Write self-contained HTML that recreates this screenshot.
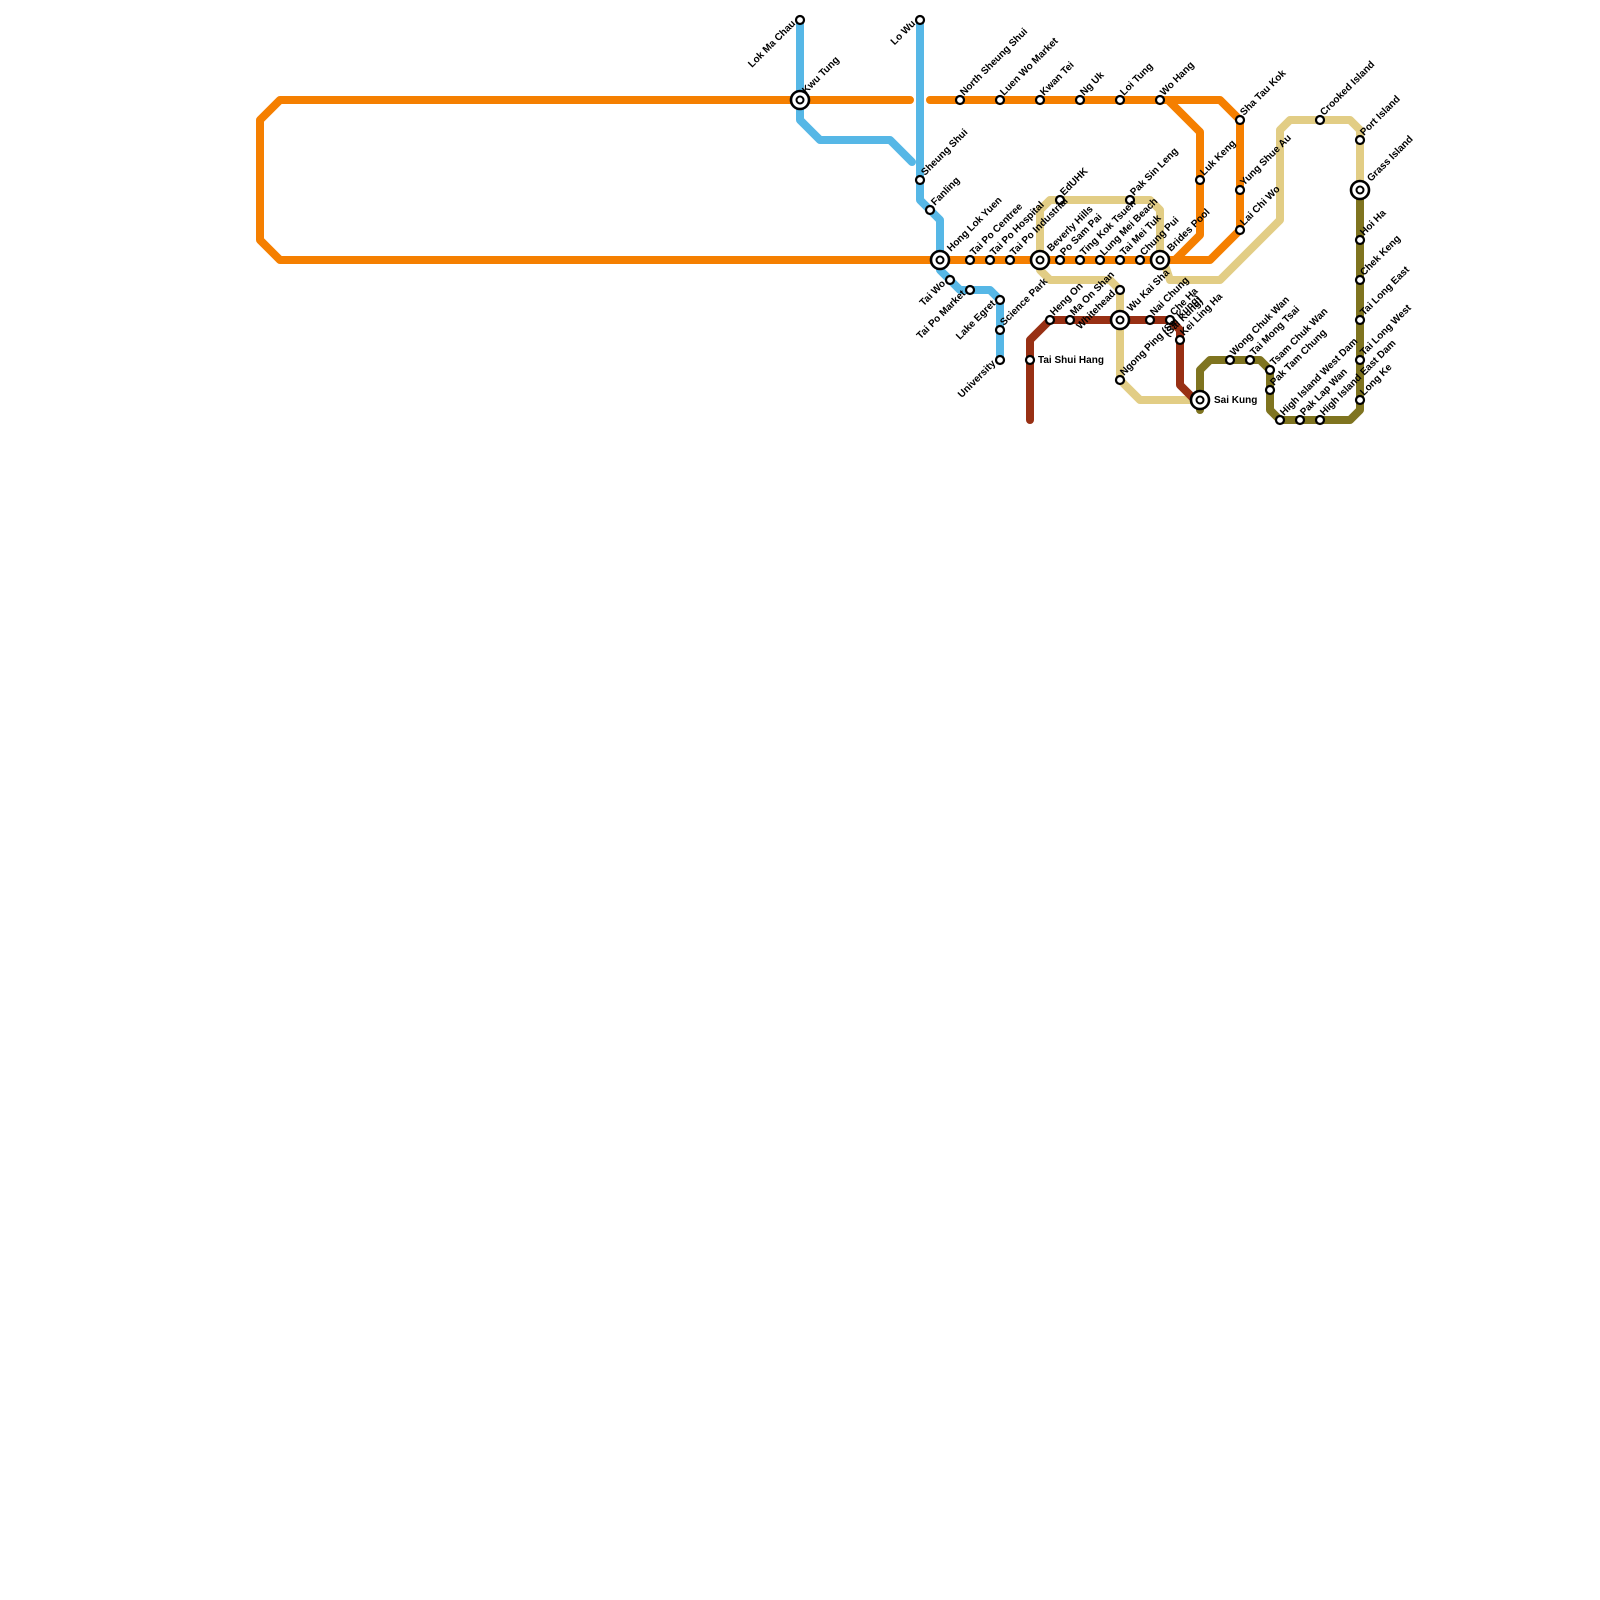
<!DOCTYPE html>
<html><head><meta charset="utf-8"><style>body{margin:0;background:#fff}svg{display:block}text{font-family:"Liberation Sans",Arial,sans-serif;font-weight:bold;font-size:10px;fill:#000}</style></head><body>
<svg width="1600" height="1600" viewBox="0 0 1600 1600" xmlns="http://www.w3.org/2000/svg">
<g fill="none" stroke-width="8" stroke-linejoin="round" stroke-linecap="round">
<path stroke="#E2CD85" d="M1040,260 L1040,210 L1050,200 L1150,200 L1160,210 L1160,250 L1170,280 L1220,280 L1280,220 L1280,130 L1290,120 L1350,120 L1360,130 L1360,190"/>
<path stroke="#E2CD85" d="M1040,260 L1040,270 L1050,280 L1110,280 L1120,290 L1120,380 L1140,400 L1200,400"/>
<path stroke="#983014" d="M1030,420 L1030,340 L1050,320 L1170,320 L1180,330 L1180,385 L1200,405"/>
<path stroke="#7F7420" d="M1200,410 L1200,370 L1210,360 L1260,360 L1270,370 L1270,410 L1280,420 L1350,420 L1360,410 L1360,190"/>
<path stroke="#56B7E6" d="M800,20 L800,120 L820,140 L890,140 L912,162"/>
<path stroke="#56B7E6" d="M920,20 L920,200 L940,220 L940,270 L960,290 L990,290 L1000,300 L1000,360"/>
<path stroke="#F57F00" d="M910,100 L280,100 L260,120 L260,240 L280,260 L1210,260 L1240,230 L1240,120 L1220,100 L930,100"/>
<path stroke="#F57F00" d="M1168,100 L1200,132 L1200,235 L1175,260"/>
</g>
<g fill="#fff" stroke="#000" stroke-width="2.2">
<circle cx="800" cy="20" r="4"/><circle cx="920" cy="20" r="4"/><circle cx="920" cy="180" r="4"/><circle cx="930" cy="210" r="4"/>
<circle cx="950" cy="280" r="4"/><circle cx="970" cy="290" r="4"/><circle cx="1000" cy="300" r="4"/><circle cx="1000" cy="330" r="4"/><circle cx="1000" cy="360" r="4"/>
<circle cx="960" cy="100" r="4"/><circle cx="1000" cy="100" r="4"/><circle cx="1040" cy="100" r="4"/><circle cx="1080" cy="100" r="4"/><circle cx="1120" cy="100" r="4"/><circle cx="1160" cy="100" r="4"/>
<circle cx="1240" cy="120" r="4"/><circle cx="1240" cy="190" r="4"/><circle cx="1240" cy="230" r="4"/><circle cx="1200" cy="180" r="4"/>
<circle cx="970" cy="260" r="4"/><circle cx="990" cy="260" r="4"/><circle cx="1010" cy="260" r="4"/><circle cx="1060" cy="260" r="4"/><circle cx="1080" cy="260" r="4"/><circle cx="1100" cy="260" r="4"/><circle cx="1120" cy="260" r="4"/><circle cx="1140" cy="260" r="4"/>
<circle cx="1060" cy="200" r="4"/><circle cx="1130" cy="200" r="4"/><circle cx="1120" cy="290" r="4"/><circle cx="1120" cy="380" r="4"/>
<circle cx="1050" cy="320" r="4"/><circle cx="1070" cy="320" r="4"/><circle cx="1150" cy="320" r="4"/><circle cx="1170" cy="320" r="4"/><circle cx="1180" cy="340" r="4"/><circle cx="1030" cy="360" r="4"/>
<circle cx="1230" cy="360" r="4"/><circle cx="1250" cy="360" r="4"/><circle cx="1270" cy="370" r="4"/><circle cx="1270" cy="390" r="4"/><circle cx="1280" cy="420" r="4"/><circle cx="1300" cy="420" r="4"/><circle cx="1320" cy="420" r="4"/>
<circle cx="1360" cy="400" r="4"/><circle cx="1360" cy="360" r="4"/><circle cx="1360" cy="320" r="4"/><circle cx="1360" cy="280" r="4"/><circle cx="1360" cy="240" r="4"/><circle cx="1360" cy="140" r="4"/><circle cx="1320" cy="120" r="4"/>
</g>
<g fill="#fff" stroke="#000">
<g stroke-width="2.6"><circle cx="800" cy="100" r="9"/><circle cx="940" cy="260" r="9"/><circle cx="1040" cy="260" r="9"/><circle cx="1160" cy="260" r="9"/><circle cx="1120" cy="320" r="9"/><circle cx="1200" cy="400" r="9"/><circle cx="1360" cy="190" r="9"/></g>
<g stroke-width="2"><circle cx="800" cy="100" r="3.5"/><circle cx="940" cy="260" r="3.5"/><circle cx="1040" cy="260" r="3.5"/><circle cx="1160" cy="260" r="3.5"/><circle cx="1120" cy="320" r="3.5"/><circle cx="1200" cy="400" r="3.5"/><circle cx="1360" cy="190" r="3.5"/></g>
</g>
<g>
<text transform="translate(806,94) rotate(-45)">Kwu Tung</text>
<text transform="translate(925,176) rotate(-45)">Sheung Shui</text>
<text transform="translate(935,206) rotate(-45)">Fanling</text>
<text transform="translate(951,252) rotate(-45)">Hong Lok Yuen</text>
<text transform="translate(974,256) rotate(-45)">Tai Po Centree</text>
<text transform="translate(994,256) rotate(-45)">Tai Po Hospital</text>
<text transform="translate(1014,256) rotate(-45)">Tai Po Industrial</text>
<text transform="translate(1051,252) rotate(-45)">Beverly Hills</text>
<text transform="translate(1064,256) rotate(-45)">Po Sam Pai</text>
<text transform="translate(1084,256) rotate(-45)">Ting Kok Tsuen</text>
<text transform="translate(1104,256) rotate(-45)">Lung Mei Beach</text>
<text transform="translate(1124,256) rotate(-45)">Tai Mei Tuk</text>
<text transform="translate(1144,256) rotate(-45)">Chung Pui</text>
<text transform="translate(1171,252) rotate(-45)">Brides Pool</text>
<text transform="translate(964,96) rotate(-45)">North Sheung Shui</text>
<text transform="translate(1004,96) rotate(-45)">Luen Wo Market</text>
<text transform="translate(1044,96) rotate(-45)">Kwan Tei</text>
<text transform="translate(1084,96) rotate(-45)">Ng Uk</text>
<text transform="translate(1124,96) rotate(-45)">Loi Tung</text>
<text transform="translate(1164,96) rotate(-45)">Wo Hang</text>
<text transform="translate(1244,116) rotate(-45)">Sha Tau Kok</text>
<text transform="translate(1244,186) rotate(-45)">Yung Shue Au</text>
<text transform="translate(1244,226) rotate(-45)">Lai Chi Wo</text>
<text transform="translate(1204,176) rotate(-45)">Luk Keng</text>
<text transform="translate(1064,196) rotate(-45)">EdUHK</text>
<text transform="translate(1134,196) rotate(-45)">Pak Sin Leng</text>
<text transform="translate(1004,326) rotate(-45)">Science Park</text>
<text transform="translate(1054,316) rotate(-45)">Heng On</text>
<text transform="translate(1074,316) rotate(-45)">Ma On Shan</text>
<text transform="translate(1131,312) rotate(-45)">Wu Kai Sha</text>
<text transform="translate(1154,316) rotate(-45)">Nai Chung</text>
<text transform="translate(1174,316) rotate(-45)">Che Ha</text>
<text transform="translate(1168,337) rotate(-45)">(Sai Kung)</text>
<text transform="translate(1184,336) rotate(-45)">Kei Ling Ha</text>
<text transform="translate(1124,376) rotate(-45)">Ngong Ping (Sai Kung)</text>
<text transform="translate(1234,356) rotate(-45)">Wong Chuk Wan</text>
<text transform="translate(1254,356) rotate(-45)">Tai Mong Tsai</text>
<text transform="translate(1274,366) rotate(-45)">Tsam Chuk Wan</text>
<text transform="translate(1274,386) rotate(-45)">Pak Tam Chung</text>
<text transform="translate(1284,416) rotate(-45)">High Island West Dam</text>
<text transform="translate(1304,416) rotate(-45)">Pak Lap Wan</text>
<text transform="translate(1324,416) rotate(-45)">High Island East Dam</text>
<text transform="translate(1364,396) rotate(-45)">Long Ke</text>
<text transform="translate(1364,356) rotate(-45)">Tai Long West</text>
<text transform="translate(1364,316) rotate(-45)">Tai Long East</text>
<text transform="translate(1364,276) rotate(-45)">Chek Keng</text>
<text transform="translate(1364,236) rotate(-45)">Hoi Ha</text>
<text transform="translate(1371,182) rotate(-45)">Grass Island</text>
<text transform="translate(1364,136) rotate(-45)">Port Island</text>
<text transform="translate(1324,116) rotate(-45)">Crooked Island</text>
<text text-anchor="end" transform="translate(796,24) rotate(-45)">Lok Ma Chau</text>
<text text-anchor="end" transform="translate(916,24) rotate(-45)">Lo Wu</text>
<text text-anchor="end" transform="translate(946,284) rotate(-45)">Tai Wo</text>
<text text-anchor="end" transform="translate(966,294) rotate(-45)">Tai Po Market</text>
<text text-anchor="end" transform="translate(996,304) rotate(-45)">Lake Egret</text>
<text text-anchor="end" transform="translate(996,364) rotate(-45)">University</text>
<text text-anchor="end" transform="translate(1116,294) rotate(-45)">Whitehead</text>
<text x="1038" y="363">Tai Shui Hang</text>
<text x="1214" y="403">Sai Kung</text>
</g>
</svg>
</body></html>
